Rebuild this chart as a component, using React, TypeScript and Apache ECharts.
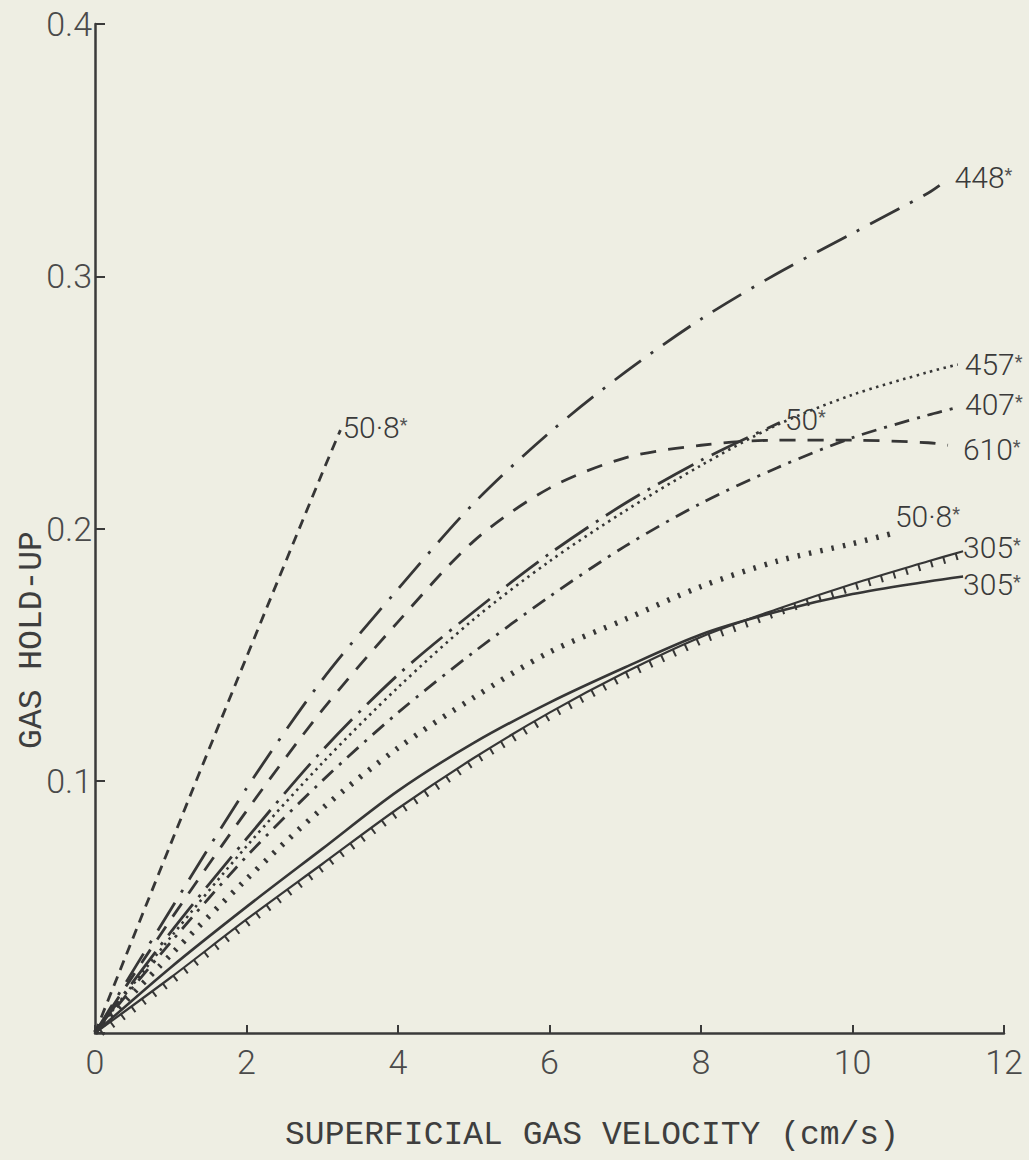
import React, { useEffect, useRef } from 'react';
import * as echarts from 'echarts';

// ---- data (superficial gas velocity cm/s, gas hold-up) ----
const xTickValues = [0, 2, 4, 6, 8, 10, 12];
const yTickLabels = ['', '0.1', '0.2', '0.3', '0.4'];

const curve508top: number[][] = [[0, 0], [1, 0.075], [2, 0.149], [3, 0.222], [3.24, 0.239]];
const curve448: number[][] = [[0, 0], [1, 0.049], [2, 0.097], [3, 0.14], [4, 0.176], [5, 0.21], [6, 0.238], [7, 0.262], [8, 0.283], [9, 0.301], [10, 0.317], [11, 0.333], [11.15, 0.336]];
const curve610: number[][] = [[0, 0], [1, 0.045], [2, 0.088], [3, 0.128], [4, 0.163], [5, 0.195], [6, 0.216], [7, 0.228], [8, 0.233], [9, 0.235], [10, 0.235], [11, 0.234], [11.26, 0.233]];
const curve50: number[][] = [[0, 0], [1, 0.04], [2, 0.077], [3, 0.112], [4, 0.142], [5, 0.167], [6, 0.19], [7, 0.21], [8, 0.227], [9.04, 0.242]];
const curve457: number[][] = [[0, 0], [1, 0.038], [2, 0.074], [3, 0.107], [4, 0.137], [5, 0.164], [6, 0.187], [7, 0.207], [8, 0.225], [9, 0.241], [10, 0.253], [11, 0.262], [11.39, 0.265]];
const curve407: number[][] = [[0, 0], [1, 0.036], [2, 0.07], [3, 0.1], [4, 0.127], [5, 0.151], [6, 0.173], [7, 0.193], [8, 0.21], [9, 0.224], [10, 0.236], [11, 0.245], [11.38, 0.248]];
const curve508low: number[][] = [[0, 0], [1, 0.031], [2, 0.061], [3, 0.089], [4, 0.113], [5, 0.133], [6, 0.151], [7, 0.164], [8, 0.177], [9, 0.187], [10, 0.194], [10.52, 0.198]];
const curve305hatched: number[][] = [[0, 0], [1, 0.022], [2, 0.045], [3, 0.067], [4, 0.089], [5, 0.109], [6, 0.127], [7, 0.143], [8, 0.157], [9, 0.168], [10, 0.178], [11, 0.187], [11.46, 0.191]];
const curve305solid: number[][] = [[0, 0], [1, 0.026], [2, 0.05], [3, 0.073], [4, 0.096], [5, 0.115], [6, 0.131], [7, 0.145], [8, 0.158], [9, 0.167], [10, 0.174], [11, 0.179], [11.46, 0.181]];

const INK = '#363636';
const FONT = 'Roboto, "DejaVu Sans", sans-serif';
const MONO = '"Liberation Mono", "DejaVu Sans Mono", monospace';
const BG = '#eeeee3';

const rich = {
  n: { fontSize: 30, fontFamily: FONT, fontWeight: 300, color: '#3a3a3a', lineHeight: 24 },
  s: { fontSize: 18, fontFamily: FONT, color: '#555', verticalAlign: 'top', lineHeight: 24 },
};

function lineSeries(data: number[][], name: string, dash: any, width: number, label: string, offset: number[]) {
  return {
    type: 'line',
    name,
    data,
    smooth: 0.3,
    showSymbol: false,
    symbol: 'none',
    lineStyle: { color: INK, width, type: dash, cap: 'butt' },
    endLabel: {
      show: true,
      formatter: '{n|' + label + '}{s|*}',
      rich,
      distance: 0,
      offset,
    },
    z: 3,
  };
}

export default function App() {
  const ref = useRef<HTMLDivElement>(null);
  useEffect(() => {
    if (!ref.current) return;
    const chart = echarts.init(ref.current, undefined, { renderer: 'svg' });
    const option: any = {
      animation: false,
      backgroundColor: BG,
      grid: { left: 95, right: 25, top: 24, bottom: 127 },
      xAxis: {
        type: 'value', min: 0, max: 12, interval: 2,
        axisLine: { lineStyle: { color: '#3a3a3a', width: 2.5 } },
        axisTick: { inside: true, length: 8, lineStyle: { color: '#3a3a3a', width: 2 } },
        axisLabel: {
          fontSize: 34, fontFamily: FONT, fontWeight: 300, color: '#4a4a4a', margin: 12,
          formatter: (v: number) => (xTickValues.indexOf(v) >= 0 ? String(v) : ''),
        },
        splitLine: { show: false },
      },
      yAxis: {
        type: 'value', min: 0, max: 0.4, interval: 0.1,
        axisLine: { show: true, lineStyle: { color: '#3a3a3a', width: 2.5 } },
        axisTick: { show: true, inside: true, length: 10, lineStyle: { color: '#3a3a3a', width: 2 } },
        axisLabel: {
          fontSize: 34, fontFamily: FONT, fontWeight: 300, color: '#4a4a4a', margin: 3,
          formatter: (v: number) => yTickLabels[Math.round(v * 10)] ?? '',
        },
        splitLine: { show: false },
      },
      graphic: [
        {
          type: 'text', x: 592, y: 1135,
          style: { text: 'SUPERFICIAL GAS VELOCITY (cm/s)', fontSize: 33, fontFamily: MONO, fill: '#3e3e3e', align: 'center', verticalAlign: 'middle' },
        },
        {
          type: 'text', x: 32, y: 640, rotation: Math.PI / 2,
          style: { text: 'GAS HOLD-UP', fontSize: 33, fontFamily: MONO, fill: '#3e3e3e', align: 'center', verticalAlign: 'middle' },
        },
      ],
      series: [
        lineSeries(curve508top, '50.8 top', [10, 7], 2.8, '50·8', [2, -3]),
        lineSeries(curve448, '448', [33, 12, 3, 12], 2.8, '448', [15, -8]),
        lineSeries(curve610, '610', [16, 12], 2.8, '610', [15, 4]),
        lineSeries(curve50, '50', [40, 9, 3, 9], 2.8, '50', [5, -3]),
        lineSeries(curve457, '457', [2.5, 4.5], 2.6, '457', [7, 0]),
        lineSeries(curve407, '407', [15, 8, 3, 8], 2.8, '407', [8, -3]),
        lineSeries(curve508low, '50·8 low', [2.5, 9], 5.5, '50·8', [3, -17]),
        lineSeries(curve305hatched, '305 hatched', 'solid', 2.2, '305', [0, -4]),
        lineSeries(curve305solid, '305 solid', 'solid', 2.6, '305', [0, 8]),
        {
          type: 'custom',
          name: 'hatch',
          coordinateSystem: 'cartesian2d',
          data: [[0, 0]],
          silent: true,
          z: 2,
          renderItem: (params: any, api: any) => {
            const pts = curve305hatched.map((p) => api.coord(p));
            const children: any[] = [];
            const step = 13;
            const len = 7;
            let carry = 6;
            for (let i = 0; i < pts.length - 1; i++) {
              const [x0, y0] = pts[i];
              const [x1, y1] = pts[i + 1];
              const dx = x1 - x0;
              const dy = y1 - y0;
              const L = Math.hypot(dx, dy);
              const ux = dx / L;
              const uy = dy / L;
              const nx = -uy;
              const ny = ux;
              let t = carry;
              while (t < L) {
                const px = x0 + ux * t;
                const py = y0 + uy * t;
                children.push({
                  type: 'line',
                  shape: { x1: px, y1: py, x2: px + nx * len, y2: py + ny * len },
                  style: { stroke: INK, lineWidth: 2 },
                });
                t += step;
              }
              carry = t - L;
            }
            return { type: 'group', children };
          },
        },
      ],
    };
    chart.setOption(option);
    return () => chart.dispose();
  }, []);
  return (
    <div
      ref={ref}
      style={{ position: 'fixed', left: 0, top: 0, width: 1029, height: 1160, background: BG }}
    />
  );
}
